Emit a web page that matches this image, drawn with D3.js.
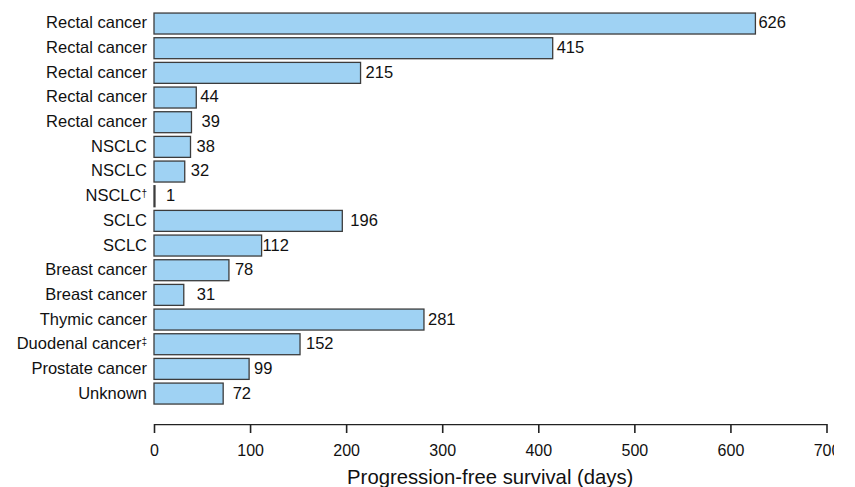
<!DOCTYPE html>
<html>
<head>
<meta charset="UTF-8">
<title></title>
<style>
  body { margin: 0; background: #fff; }
  text { font-family: "Liberation Sans", Arial, Helvetica, sans-serif; fill: #111; }
  .axis path, .axis line { stroke: #222; stroke-width: 1.6px; }
</style>
</head>
<body>
<script src="https://cdn.jsdelivr.net/npm/d3@7"></script>
<script>
var width = 855, height = 487;

// data
var categories = ["Rectal cancer", "Rectal cancer", "Rectal cancer", "Rectal cancer", "Rectal cancer",
  "NSCLC", "NSCLC", "NSCLC", "SCLC", "SCLC", "Breast cancer", "Breast cancer",
  "Thymic cancer", "Duodenal cancer", "Prostate cancer", "Unknown"];
var marks = ["", "", "", "", "", "", "", "\u2020", "", "", "", "", "", "\u2021", "", ""];
var pfsDays = [626, 415, 215, 44, 39, 38, 32, 1, 196, 112, 78, 31, 281, 152, 99, 72];
var xTicks = [0, 100, 200, 300, 400, 500, 600, 700];

// the original labels were placed by hand, so the gap after each bar varies (px)
var labelGap = [3, 4, 5, 4, 10, 6, 6, 11, 8, 1, 6, 13, 4, 6, 5, 9.5];

var svg = d3.select("body").append("svg")
  .attr("width", width)
  .attr("height", height);

// scales
var x = d3.scaleLinear().domain([0, 700]).range([154, 826.5]);
var y = d3.scaleBand()
  .domain(d3.range(categories.length))
  .range([11.2, 405.9])
  .paddingInner(0.15)
  .paddingOuter(0.075);

// bars
svg.selectAll(".bar")
  .data(pfsDays)
  .enter()
  .append("rect")
  .attr("class", "bar")
  .attr("x", x(0))
  .attr("y", function(d, i) { return y(i); })
  .attr("width", function(d) { return x(d) - x(0); })
  .attr("height", y.bandwidth())
  .attr("fill", "#9fd2f3")
  .attr("stroke", "#3c3c3c")
  .attr("stroke-width", 1.3);

// category labels
var cat = svg.selectAll(".cat")
  .data(categories)
  .enter()
  .append("text")
  .attr("class", "cat")
  .attr("x", x(0) - 7)
  .attr("y", function(d, i) { return y(i) + y.bandwidth() / 2; })
  .attr("dy", "0.3em")
  .attr("text-anchor", "end")
  .style("font-size", "16.5px");
cat.append("tspan").text(function(d) { return d; });
cat.append("tspan")
  .attr("dy", "-0.45em")
  .style("font-size", "10px")
  .text(function(d, i) { return marks[i]; });

// value labels
svg.selectAll(".val")
  .data(pfsDays)
  .enter()
  .append("text")
  .attr("class", "val")
  .attr("x", function(d, i) { return x(d) + labelGap[i]; })
  .attr("y", function(d, i) { return y(i) + y.bandwidth() / 2; })
  .attr("dy", "0.3em")
  .style("font-size", "16.5px")
  .text(function(d) { return d; });

// clip the right edge like the cropped original
svg.append("clipPath").attr("id", "clip")
  .append("rect").attr("x", 0).attr("y", 0).attr("width", 834).attr("height", height);

// x axis
var xAxis = d3.axisBottom(x)
  .tickValues(xTicks)
  .tickSize(9)
  .tickSizeOuter(0)
  .tickPadding(12);

var gx = svg.append("g")
  .attr("class", "axis")
  .attr("transform", "translate(0,424)")
  .attr("clip-path", "url(#clip)")
  .call(xAxis);
gx.selectAll("text")
  .style("font-size", "16px")
  .style("font-family", "'Liberation Sans', Arial, sans-serif")
  .attr("fill", "#111");

// axis title
svg.append("text")
  .attr("x", (x(0) + x(700)) / 2)
  .attr("y", 484)
  .attr("text-anchor", "middle")
  .style("font-size", "20.3px")
  .text("Progression-free survival (days)");
</script>
</body>
</html>
